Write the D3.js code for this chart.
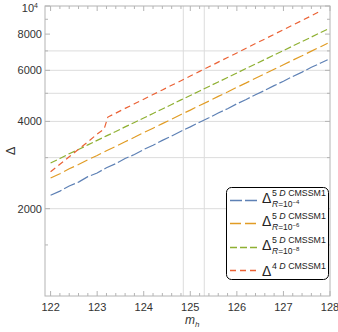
<!DOCTYPE html>
<html>
<head>
<meta charset="utf-8">
<script src="https://cdn.jsdelivr.net/npm/d3@7"></script>
<style>
  body { margin: 0; background: #fff; }
  svg { font-family: "Liberation Sans", Arial, sans-serif; }
</style>
</head>
<body>
<svg id="chart" width="338" height="332"></svg>
<script>
// m_h values (shared by the three 5D curves)
const mh = [122.0, 122.2, 122.4, 122.6, 122.8, 123.0, 123.2, 123.4, 123.6, 123.8,
            124.0, 124.2, 124.4, 124.6, 124.8, 125.0, 125.2, 125.4, 125.6, 125.8,
            126.0, 126.2, 126.4, 126.6, 126.8, 127.0, 127.2, 127.4, 127.6, 127.8, 127.95];
const delta5R4 = [2225, 2300, 2395, 2470, 2580, 2655, 2770, 2860, 2980, 3075,
                  3200, 3310, 3440, 3560, 3700, 3830, 3975, 4115, 4275, 4425,
                  4600, 4760, 4945, 5115, 5315, 5500, 5715, 5915, 6145, 6360, 6530];
const delta5R6 = [2553, 2640, 2745, 2840, 2950, 3050, 3170, 3280, 3405, 3525,
                  3660, 3790, 3930, 4070, 4225, 4375, 4540, 4700, 4880, 5050,
                  5245, 5430, 5635, 5835, 6055, 6270, 6505, 6735, 6990, 7240, 7440];
const delta5R8 = [2875, 2980, 3095, 3200, 3320, 3440, 3565, 3690, 3830, 3965,
                  4110, 4260, 4415, 4575, 4745, 4915, 5090, 5280, 5470, 5665,
                  5875, 6090, 6310, 6540, 6775, 7020, 7280, 7540, 7815, 8100, 8320];
// 4D curve has its own m_h grid (kink near 123.2)
const mhRed = [122.0, 122.2, 122.4, 122.6, 122.8, 123.0, 123.15, 123.23, 123.4, 123.6, 123.8,
               124.0, 124.2, 124.4, 124.6, 124.8, 125.0, 125.2, 125.4, 125.6, 125.8,
               126.0, 126.2, 126.4, 126.6, 126.8, 127.0, 127.2, 127.4, 127.6, 127.8];
const delta4 = [2680, 2845, 3020, 3205, 3400, 3615, 3765, 4140, 4270, 4435, 4600,
                4770, 4950, 5135, 5330, 5525, 5735, 5950, 6170, 6405, 6645,
                6890, 7150, 7420, 7695, 7985, 8285, 8595, 8915, 9250, 9610];

const xTicks = [122, 123, 124, 125, 126, 127, 128];
const yTicks = [2000, 4000, 6000, 8000, 10000];
const yMinor = [1500, 3000, 5000, 7000, 9000];
const yGrid = [2000, 3000, 4000, 5000, 6000, 7000];
const xGrid = [124.85, 125.3];

const series = [
  {name: "R=10", exp: "−4", x: mh, y: delta5R4, color: "#5e81b5", dash: "12,3"},
  {name: "R=10", exp: "−6", x: mh, y: delta5R6, color: "#e19c24", dash: "11,4"},
  {name: "R=10", exp: "−8", x: mh, y: delta5R8, color: "#8fb032", dash: "7,3"},
  {name: null, x: mhRed, y: delta4, color: "#eb6235", dash: "6,4"}
];

const svg = d3.select("#chart");
const pL = 45, pR = 330, pT = 6, pB = 296;

const x = d3.scaleLinear().domain([121.88, 128]).range([pL, pR]);
const y = d3.scaleLog().domain([1000, 10000]).range([pB, pT]);

// grid
svg.append("g").selectAll("line").data(yGrid).join("line")
  .attr("x1", pL).attr("x2", pR)
  .attr("y1", d => y(d)).attr("y2", d => y(d))
  .attr("stroke", "#dcdcdc").attr("stroke-width", 1);
svg.append("g").selectAll("line").data(xGrid).join("line")
  .attr("x1", d => x(d)).attr("x2", d => x(d))
  .attr("y1", pT).attr("y2", pB)
  .attr("stroke", "#dcdcdc").attr("stroke-width", 1);

// frame
const frame = "#b4b4b4";
svg.append("rect").attr("x", pL).attr("y", pT)
  .attr("width", pR - pL).attr("height", pB - pT)
  .attr("fill", "none").attr("stroke", frame).attr("stroke-width", 1);

// x ticks (bottom and top)
const xMinor = d3.range(122, 128.01, 0.2).filter(v => Math.abs(v - Math.round(v)) > 0.01);
[[pB, -1], [pT, 1]].forEach(([yy, s]) => {
  svg.append("g").selectAll("line").data(xTicks).join("line")
    .attr("x1", d => x(d)).attr("x2", d => x(d))
    .attr("y1", yy).attr("y2", yy + s * 5)
    .attr("stroke", frame);
  svg.append("g").selectAll("line").data(xMinor).join("line")
    .attr("x1", d => x(d)).attr("x2", d => x(d))
    .attr("y1", yy).attr("y2", yy + s * 3)
    .attr("stroke", frame);
});
// y ticks (left and right)
[[pL, 1], [pR, -1]].forEach(([xx, s]) => {
  svg.append("g").selectAll("line").data(yTicks).join("line")
    .attr("x1", xx).attr("x2", xx + s * 5)
    .attr("y1", d => y(d)).attr("y2", d => y(d))
    .attr("stroke", frame);
  svg.append("g").selectAll("line").data(yMinor).join("line")
    .attr("x1", xx).attr("x2", xx + s * 3)
    .attr("y1", d => y(d)).attr("y2", d => y(d))
    .attr("stroke", frame);
});

// tick labels
svg.append("g").selectAll("text").data(xTicks).join("text")
  .attr("x", d => x(d)).attr("y", pB + 15)
  .attr("text-anchor", "middle").attr("font-size", 11).attr("fill", "#333")
  .text(d => d);
const yl = svg.append("g").selectAll("text").data(yTicks).join("text")
  .attr("x", pL - 3).attr("y", d => y(d) + 4)
  .attr("text-anchor", "end").attr("font-size", 11).attr("fill", "#333");
yl.filter(d => d < 10000).text(d => d);
yl.filter(d => d === 10000).each(function() {
  const t = d3.select(this).attr("x", pL - 7).attr("y", y(10000) + 6);
  t.append("tspan").text("10");
  t.append("tspan").attr("dy", -4).attr("font-size", 7).text("4");
});

// axis labels
svg.append("text").attr("transform", `translate(15,${(pT + pB) / 2}) rotate(-90)`)
  .attr("text-anchor", "middle").attr("font-size", 13).attr("fill", "#333").text("Δ");
const xl = svg.append("text").attr("x", 185).attr("y", 324)
  .attr("font-size", 12).attr("fill", "#333").attr("font-style", "italic");
xl.append("tspan").text("m");
xl.append("tspan").attr("dy", 3).attr("font-size", 8).text("h");

// curves
const line = d3.line().x(d => x(d[0])).y(d => y(d[1]));
svg.append("g").selectAll("path").data(series).join("path")
  .attr("d", s => line(s.x.map((v, i) => [v, s.y[i]])))
  .attr("fill", "none").attr("stroke", s => s.color)
  .attr("stroke-width", 1.2).attr("stroke-dasharray", s => s.dash);

// legend
const lg = svg.append("g");
lg.append("rect").attr("x", 226.5).attr("y", 187.5).attr("width", 102).attr("height", 92)
  .attr("rx", 5).attr("fill", "#fff").attr("stroke", "#000").attr("stroke-width", 1);
const entryY = [200.5, 223.5, 247.5, 270.5];
series.forEach((s, i) => {
  const cy = entryY[i];
  lg.append("line").attr("x1", 230).attr("x2", 257).attr("y1", cy).attr("y2", cy)
    .attr("stroke", s.color).attr("stroke-width", 1.3).attr("stroke-dasharray", s.dash);
  const base = s.name ? cy + 2 : cy + 5;
  lg.append("text").attr("x", 262).attr("y", base).attr("font-size", 14).attr("fill", "#222").text("Δ");
  const sup = lg.append("text").attr("x", 272).attr("y", base - 7)
    .attr("font-size", 8.8).attr("fill", "#222");
  sup.append("tspan").text(s.name ? "5 " : "4 ");
  sup.append("tspan").attr("font-style", "italic").text("D");
  sup.append("tspan").text(" CMSSM1");
  if (s.name) {
    const sub = lg.append("text").attr("x", 272).attr("y", base + 4)
      .attr("font-size", 8.5).attr("fill", "#222");
    sub.append("tspan").attr("font-style", "italic").text("R");
    sub.append("tspan").text("=10");
    sub.append("tspan").attr("dy", -3).attr("font-size", 6).text(s.exp);
  }
});
</script>
</body>
</html>
